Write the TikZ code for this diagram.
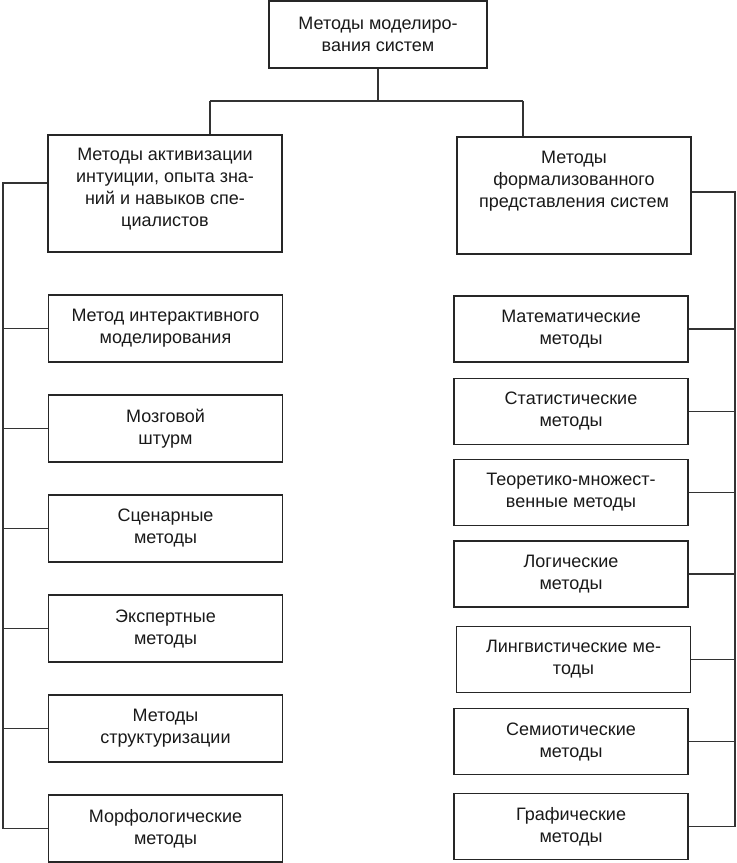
\documentclass[tikz,border=0pt]{standalone}
\usepackage{fontspec}
\setmainfont{Liberation Sans}
\usetikzlibrary{positioning}

\tikzset{
	box/.style={draw=black!85, line width=1.6pt, minimum width=234pt, minimum height=67pt,
		inner sep=0pt, align=center, text=black!90, font=\fontsize{18}{22}\selectfont},
	bigbox/.style={box, minimum height=117pt},
	txt/.style={inner sep=0pt, align=center, text=black!90, font=\fontsize{18}{22}\selectfont},
	link/.style={draw=black!80, line width=1.1pt}
}

\begin{document}
\begin{tikzpicture}[x=1pt,y=-1pt]
		\useasboundingbox (0,0) rectangle (737,863);
		\node[box, minimum width=218pt] (0) at (378,34.5) {Методы моделиро-\\вания систем};
		\node[bigbox] (L) at (165,193.5) {};
		\node[txt, below=14pt of L.north] (Lt) {Методы активизации\\интуиции, опыта зна-\\ний и навыков спе-\\циалистов};
		\node[bigbox] (R) at (574,195.5) {};
		\node[txt, below=15pt of R.north] (Rt) {Методы\\формализованного\\представления систем};
		% left column
		\node[box] (L1) at (165.5,328.5) {Метод интерактивного\\моделирования};
		\node[box] (L2) at (165.5,428.5) {Мозговой\\штурм};
		\node[box] (L3) at (165.5,528.5) {Сценарные\\методы};
		\node[box] (L4) at (165.5,628.5) {Экспертные\\методы};
		\node[box] (L5) at (165.5,728.5) {Методы\\структуризации};
		\node[box] (L6) at (165.5,828.5) {Морфологические\\методы};
		% right column
		\node[box, minimum height=66pt] (R1) at (571,329) {Математические\\методы};
		\node[box, minimum height=66pt] (R2) at (571,411.5) {Статистические\\методы};
		\node[box, minimum height=66pt] (R3) at (571,492.5) {Теоретико-множест-\\венные методы};
		\node[box, minimum height=66pt] (R4) at (571,574) {Логические\\методы};
		\node[box, minimum height=66pt] (R5) at (573.5,659.5) {Лингвистические ме-\\тоды};
		\node[box, minimum height=66pt] (R6) at (571,741.5) {Семиотические\\методы};
		\node[box, minimum height=66pt] (R7) at (571,826.5) {Графические\\методы};

		\coordinate (jl) at (210,101);
		\coordinate (jr) at (523,101);
		\draw[link] (0.south) -- (0.south |- jl);
		\draw[link] (jl) -- (jr);
		\draw[link] (jl) -- (jl |- L.north);
		\draw[link] (jr) -- (jr |- R.north);

		\coordinate (lt) at (3,183);
		\draw[link] (L.west |- lt) -- (lt) |- (L6.west);
		\draw[link] (L1.west) -- (L1.west -| lt);
		\draw[link] (L2.west) -- (L2.west -| lt);
		\draw[link] (L3.west) -- (L3.west -| lt);
		\draw[link] (L4.west) -- (L4.west -| lt);
		\draw[link] (L5.west) -- (L5.west -| lt);

		\coordinate (rt) at (735,192);
		\draw[link] (R.east |- rt) -- (rt) |- (R7.east);
		\draw[link] (R1.east) -- (R1.east -| rt);
		\draw[link] (R2.east) -- (R2.east -| rt);
		\draw[link] (R3.east) -- (R3.east -| rt);
		\draw[link] (R4.east) -- (R4.east -| rt);
		\draw[link] (R5.east) -- (R5.east -| rt);
		\draw[link] (R6.east) -- (R6.east -| rt);
\end{tikzpicture}
\end{document}
